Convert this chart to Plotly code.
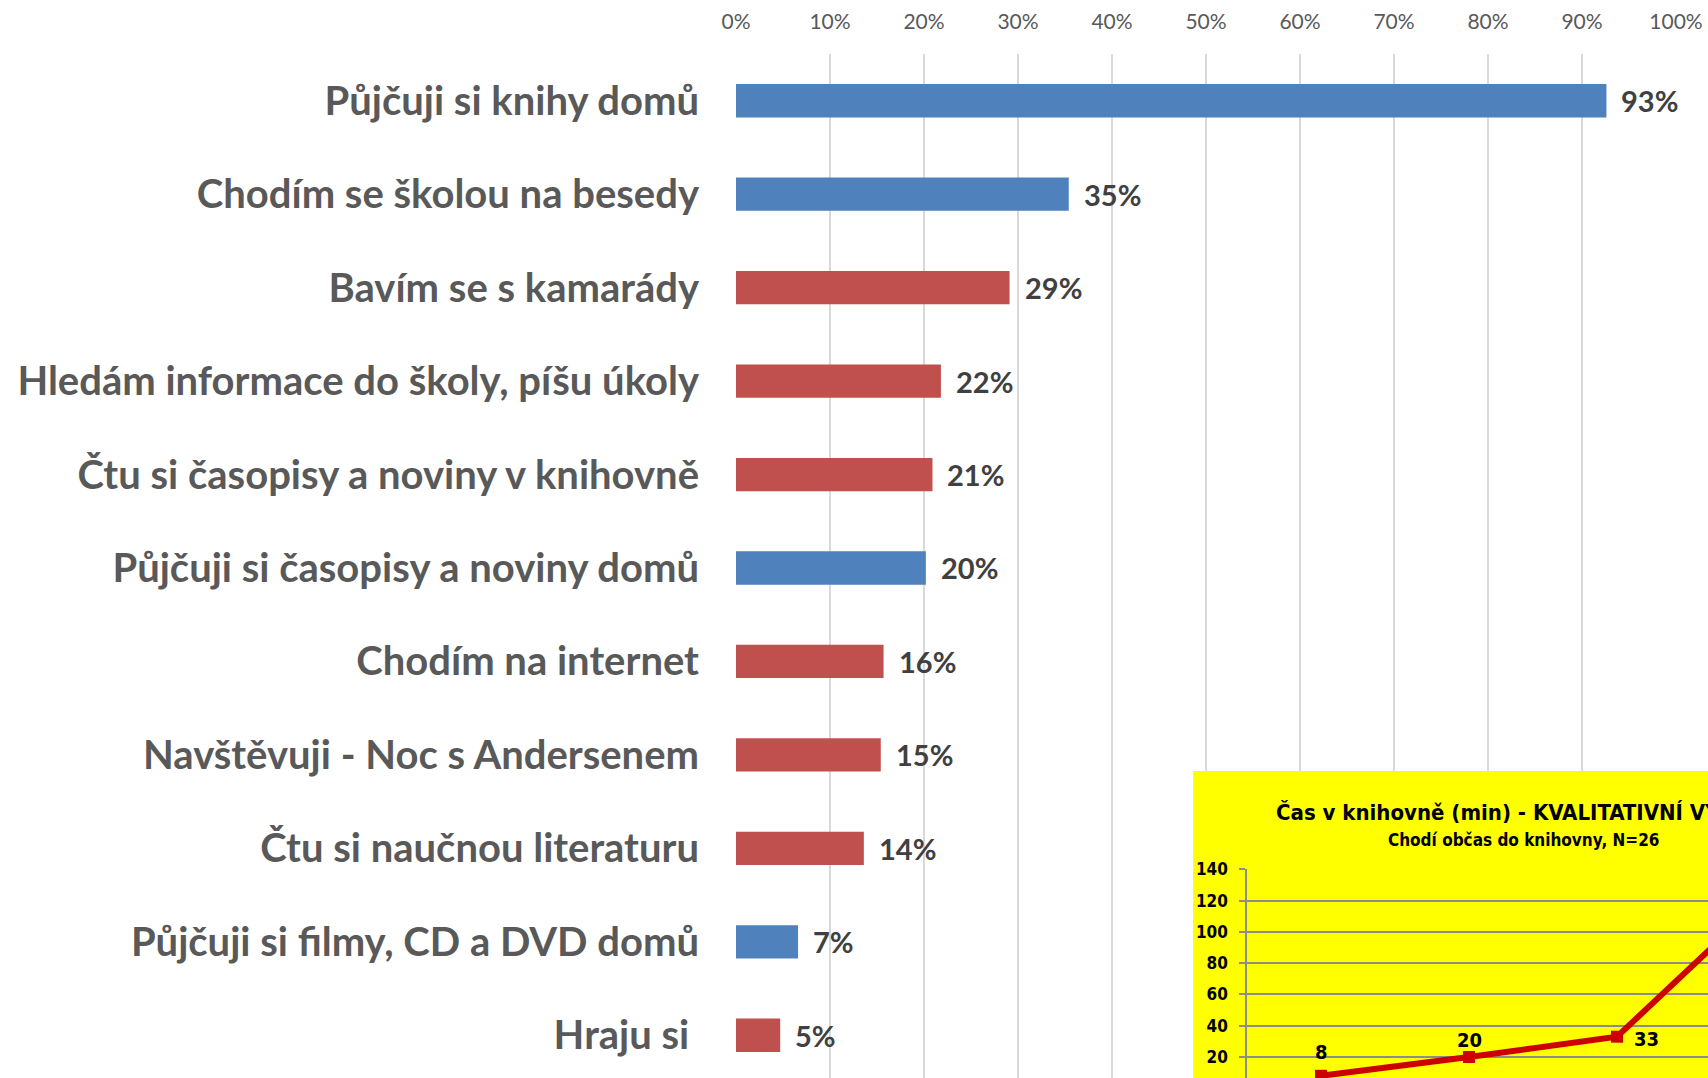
import plotly.graph_objects as go

W, H = 1708, 1078

# ---------------- data: main bar chart ----------------
categories = [
    "Půjčuji si knihy domů",
    "Chodím se školou na besedy",
    "Bavím se s kamarády",
    "Hledám informace do školy, píšu úkoly",
    "Čtu si časopisy a noviny v knihovně",
    "Půjčuji si časopisy a noviny domů",
    "Chodím na internet",
    "Navštěvuji - Noc s Andersenem",
    "Čtu si naučnou literaturu",
    "Půjčuji si filmy, CD a DVD domů",
    "Hraju si\u00a0",
]
values_pct = [92.6, 35.4, 29.1, 21.8, 20.9, 20.2, 15.7, 15.4, 13.6, 6.6, 4.7]
groups = ["A", "A", "B", "B", "B", "A", "B", "B", "B", "A", "B"]
x_ticks = [0, 10, 20, 30, 40, 50, 60, 70, 80, 90, 100]

# ---------------- data: inset line chart ----------------
inset_categories = ["k1", "k2", "k3", "k4"]
inset_values = [8, 20, 33, 122]
inset_y_ticks = [20, 40, 60, 80, 100, 120, 140]
inset_title = "Čas v knihovně (min) - KVALITATIVNÍ VÝZKUM"
inset_subtitle = "Chodí občas do knihovny, N=26"

# ---------------- styles ----------------
group_colors = {"A": "#4F81BD", "B": "#C0504D"}
LABEL_FONT = "Lato, Carlito, Calibri, sans-serif"
INSET_FONT = "DejaVu Sans Condensed, Liberation Sans Narrow, Tahoma, DejaVu Sans, sans-serif"
# label placement for inset points: (xanchor, yanchor, xshift, yshift)
inset_label_place = [
    ("center", "middle", 0, 24),
    ("center", "middle", 0, 17),
    ("left", "middle", 15, -2),
    ("left", "middle", 15, -2),
]


def px_x(p):
    return p / W


def px_y(p):
    return 1 - p / H


fig = go.Figure()

fig.add_trace(go.Bar(
    x=[v / 100 for v in values_pct],
    y=categories,
    orientation="h",
    marker=dict(color=[group_colors[g] for g in groups], line=dict(width=0)),
    xaxis="x", yaxis="y",
    hoverinfo="skip",
    showlegend=False,
))

# empty trace for the yellow panel subplot
fig.add_trace(go.Scatter(x=[None], y=[None], xaxis="x2", yaxis="y2",
                         mode="markers", showlegend=False, hoverinfo="skip"))

# inset line
fig.add_trace(go.Scatter(
    x=inset_categories,
    y=inset_values,
    xaxis="x3", yaxis="y3",
    mode="lines+markers",
    line=dict(color="#CC0000", width=6),
    marker=dict(symbol="square", size=12, color="#CC0000"),
    hoverinfo="skip",
    showlegend=False,
))

annotations = []
for c, v in zip(categories, values_pct):
    annotations.append(dict(
        x=v / 100, y=c, xref="x", yref="y",
        text=f"{round(v)}%", showarrow=False,
        xanchor="left", yanchor="middle", xshift=13,
        font=dict(family=LABEL_FONT, size=29, color="#404040", weight="bold"),
    ))

inset_slot = 148.0
inset_left = 1247.0
inset_xmax = -0.5 + (W - inset_left) / inset_slot

for i, v in enumerate(inset_values):
    if i > inset_xmax:
        continue
    xa, ya, xs, ys = inset_label_place[i]
    annotations.append(dict(
        x=i, y=v, xref="x3", yref="y3", text=str(v), showarrow=False,
        xanchor=xa, yanchor=ya, xshift=xs, yshift=ys,
        font=dict(family=INSET_FONT, size=20, color="#000000", weight="bold"),
    ))

annotations.append(dict(
    x=px_x(1274), y=px_y(812), xref="paper", yref="paper",
    text=inset_title, showarrow=False, xanchor="left", yanchor="middle",
    font=dict(family=INSET_FONT, size=22, color="#000000", weight="bold"),
))
annotations.append(dict(
    x=px_x(1523), y=px_y(840), xref="paper", yref="paper",
    text=inset_subtitle, showarrow=False, xanchor="center", yanchor="middle",
    font=dict(family=INSET_FONT, size=17, color="#000000", weight="bold"),
))

slot_top = 54.0
slot = 93.45
y_bottom_val = (H - slot_top) / slot - 0.5

inset_top = 869.0
inset_px_per_unit = (1057.0 - inset_top) / 120.0
inset_zero_px = 1057.0 + 20 * inset_px_per_unit
inset_ymin = (inset_zero_px - H) / inset_px_per_unit

fig.update_layout(
    width=W, height=H,
    margin=dict(l=0, r=0, t=0, b=0, autoexpand=False),
    paper_bgcolor="white",
    plot_bgcolor="rgba(0,0,0,0)",
    template="none",
    bargap=1 - 33.3 / slot,
    xaxis=dict(
        domain=[px_x(736), px_x(1676)],
        anchor="y",
        side="top",
        range=[0, 1],
        tickvals=[t / 100 for t in x_ticks],
        ticktext=[f"{t}%" for t in x_ticks],
        showgrid=True, gridcolor="#D9D9D9", gridwidth=2,
        zeroline=False, showline=False, ticks="",
        ticklabelstandoff=20,
        tickfont=dict(family=LABEL_FONT, size=21, color="#595959"),
        automargin=False,
        fixedrange=True,
    ),
    yaxis=dict(
        domain=[0, px_y(slot_top)],
        anchor="x",
        type="category",
        range=[y_bottom_val, -0.5],
        showgrid=False, zeroline=False, showline=False, ticks="",
        ticklabelstandoff=36,
        tickfont=dict(family=LABEL_FONT, size=40, color="#595959", weight="bold"),
        automargin=False,
        fixedrange=True,
    ),
    xaxis2=dict(domain=[px_x(1193), 1], anchor="y2", range=[0, 1], visible=False, fixedrange=True),
    yaxis2=dict(domain=[0, px_y(771)], anchor="x2", range=[0, 1], visible=False, fixedrange=True),
    xaxis3=dict(
        domain=[px_x(inset_left), 1], anchor="y3",
        type="category",
        range=[-0.5, inset_xmax],
        showgrid=False, zeroline=False, showline=False, showticklabels=False, ticks="",
        automargin=False, fixedrange=True,
    ),
    yaxis3=dict(
        domain=[0, px_y(inset_top)], anchor="x3",
        range=[inset_ymin, 140.2],
        tickvals=inset_y_ticks,
        showgrid=True, gridcolor="#8C8C8C", gridwidth=1.5,
        zeroline=False,
        showline=True, linecolor="#8C8C8C", linewidth=1.5,
        ticks="outside", ticklen=6, tickcolor="#8C8C8C", tickwidth=1.5,
        ticklabelstandoff=8,
        tickfont=dict(family=INSET_FONT, size=17, color="#000000", weight="bold"),
        automargin=False, fixedrange=True,
    ),
    shapes=[dict(
        type="rect", xref="x2", yref="y2", x0=0, x1=1, y0=0, y1=1,
        fillcolor="#FFFF00", line=dict(width=0), layer="below",
    )],
    annotations=annotations,
)

fig.write_html(
    "out.html",
    config={"displayModeBar": False},
    post_script="document.body.style.margin='0';document.body.style.overflow='hidden';",
)
